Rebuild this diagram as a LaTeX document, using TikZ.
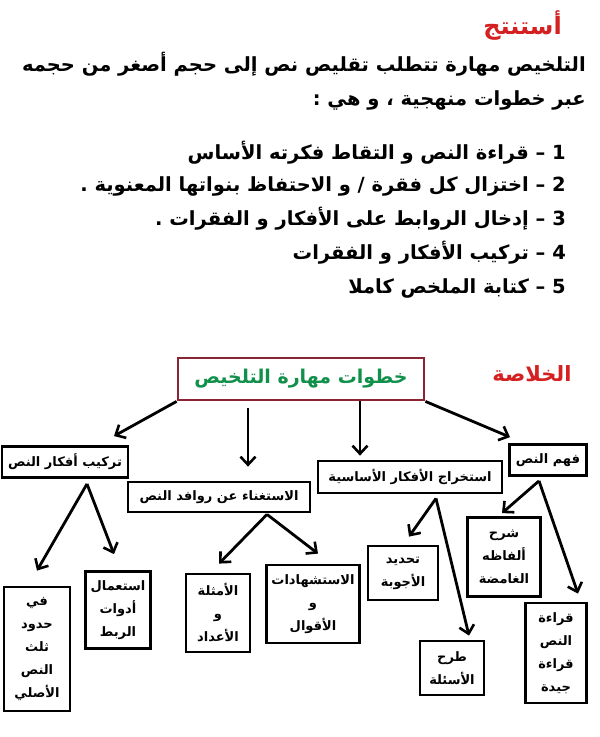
\documentclass[tikz,border=0pt]{standalone}
\usepackage{fontspec}
\usetikzlibrary{arrows.meta}
\TeXXeTstate=1
\newfontfamily\arabicfont[Script=Arabic]{DejaVu Sans}
\newcommand\AR[1]{\arabicfont\bfseries\beginR #1\endR}
\newcommand\NUM[1]{\beginL #1\endL{}}
\definecolor{tred}{HTML}{D42020}
\definecolor{tgreen}{HTML}{10904A}
\definecolor{tframe}{HTML}{8B2535}
\begin{document}
\begin{tikzpicture}[x=1pt,y=-1pt,
  box/.style={draw=black,line width=2.8pt,inner sep=1pt,align=center,font=\fontsize{13}{23}\selectfont},
  arr/.style={line width=2.8pt,-{Straight Barb[length=8pt,width=15pt,line width=2.6pt]}},
  para/.style={anchor=east,inner sep=0pt,font=\fontsize{19.5}{21}\selectfont}]
\useasboundingbox[fill=white] (0,0) rectangle (600,737);
% top text
\node[para,text=tred,font=\fontsize{24}{26}\selectfont] (t0) at (562,26) {\AR{أستنتج}};
\node[para] (t1) at (586,64) {\AR{التلخيص مهارة تتطلب تقليص نص إلى حجم أصغر من حجمه}};
\node[para] (t2) at (586,100) {\AR{عبر خطوات منهجية ، و هي :}};
\node[para] (t3) at (566,153) {\AR{\NUM{1} – قراءة النص و التقاط فكرته الأساس}};
\node[para] (t4) at (566,186) {\AR{\NUM{2} – اختزال كل فقرة / و الاحتفاظ بنواتها المعنوية .}};
\node[para] (t5) at (566,219) {\AR{\NUM{3} – إدخال الروابط على الأفكار و الفقرات .}};
\node[para] (t6) at (566,253) {\AR{\NUM{4} – تركيب الأفكار و الفقرات}};
\node[para] (t7) at (566,288) {\AR{\NUM{5} – كتابة الملخص كاملا}};
% diagram
\node[text=tred,font=\fontsize{21}{23}\selectfont,inner sep=0pt] (khul) at (532,374) {\AR{الخلاصة}};
\node[draw=tframe,line width=2.8pt,minimum width=246pt,minimum height=42pt,text=tgreen,font=\fontsize{19}{21}\selectfont] (title) at (301,379) {\AR{خطوات مهارة التلخيص}};
\node[box,minimum width=126pt,minimum height=31pt] (tarkib) at (65,462) {\AR{تركيب أفكار النص}};
\node[box,minimum width=182pt,minimum height=30pt] (ist) at (219,497) {\AR{الاستغناء عن روافد النص}};
\node[box,minimum width=184pt,minimum height=32pt] (ikh) at (410,477) {\AR{استخراج الأفكار الأساسية}};
\node[box,minimum width=77pt,minimum height=31pt] (fahm) at (548,460) {\AR{فهم النص}};
\node[box,minimum width=73pt,minimum height=79pt] (sharh) at (504,557) {\AR{شرح}\\\AR{ألفاظه}\\\AR{الغامضة}};
\node[box,minimum width=70pt,minimum height=54pt] (tahdid) at (403,573) {\AR{تحديد}\\\AR{الأجوبة}};
\node[box,minimum width=64pt,minimum height=54pt] (tarh) at (452,668) {\AR{طرح}\\\AR{الأسئلة}};
\node[box,minimum width=61pt,minimum height=100pt] (qiraa) at (556,653) {\AR{قراءة}\\\AR{النص}\\\AR{قراءة}\\\AR{جيدة}};
\node[box,minimum width=93pt,minimum height=78pt] (shahid) at (313,604) {\AR{الاستشهادات}\\\AR{و}\\\AR{الأقوال}};
\node[box,minimum width=64pt,minimum height=78pt] (amth) at (218,613) {\AR{الأمثلة}\\\AR{و}\\\AR{الأعداد}};
\node[box,minimum width=65pt,minimum height=77pt] (istimal) at (118,610) {\AR{استعمال}\\\AR{أدوات}\\\AR{الربط}};
\node[box,minimum width=66pt,minimum height=124pt] (fi) at (37,649) {\AR{في}\\\AR{حدود}\\\AR{ثلث}\\\AR{النص}\\\AR{الأصلي}};
% arrows
\draw[arr] (title.south west) -- ([shift={(49,-9)}]tarkib.north);
\draw[arr] ([shift={(-53,7)}]title.south) -- ([shift={(29,-14)}]ist.north);
\draw[arr] ([shift={(59,0)}]title.south) -- ([shift={(-50,-4)}]ikh.north);
\draw[arr] (title.south east) -- ([shift={(-38,-6)}]fahm.north);
\draw[arr] ([shift={(22,5)}]tarkib.south) -- ([shift={(0,-15)}]fi.north);
\draw[arr] ([shift={(22,5)}]tarkib.south) -- ([shift={(-4,-16)}]istimal.north);
\draw[arr] ([shift={(48,1)}]ist.south) -- ([shift={(1,-9)}]amth.north);
\draw[arr] ([shift={(48,1)}]ist.south) -- ([shift={(5,-10)}]shahid.north);
\draw[arr] ([shift={(26,4)}]ikh.south) -- ([shift={(6,-8)}]tahdid.north);
\draw[arr] ([shift={(26,4)}]ikh.south) -- ([shift={(17,-4)}]tarh.north);
\draw[arr] ([shift={(-9,4)}]fahm.south) -- ([shift={(-2,-3)}]sharh.north);
\draw[arr] ([shift={(-9,4)}]fahm.south) -- ([shift={(22,-8)}]qiraa.north);
\end{tikzpicture}
\end{document}
